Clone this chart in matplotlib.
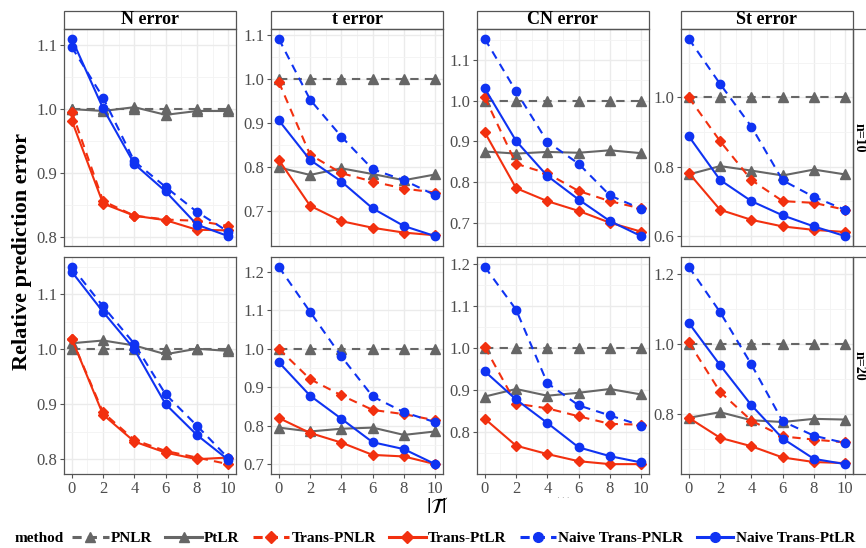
import matplotlib.pyplot as plt
from matplotlib.ticker import MultipleLocator
from matplotlib.lines import Line2D
from matplotlib.patches import Rectangle

plt.rcParams['font.family'] = ['Liberation Serif', 'DejaVu Serif']
plt.rcParams['mathtext.fontset'] = 'stix'

# data: |T| and relative prediction error
x = [0, 2, 4, 6, 8, 10]
methods = ['PNLR', 'PtLR', 'Trans-PNLR', 'Trans-PtLR', 'Naive Trans-PNLR', 'Naive Trans-PtLR']
errors = ['N error', 't error', 'CN error', 'St error']
rows = ['n=10', 'n=20']

# order of series: PNLR, PtLR, Trans-PNLR, Trans-PtLR, Naive Trans-PNLR, Naive Trans-PtLR
N_n10 = [
    [1.0, 1.0, 1.0, 1.0, 1.0, 1.0],
    [1.0, 0.997, 1.003, 0.991, 0.997, 0.997],
    [0.996, 0.856, 0.833, 0.827, 0.825, 0.817],
    [0.982, 0.852, 0.833, 0.826, 0.811, 0.810],
    [1.097, 1.018, 0.918, 0.878, 0.839, 0.808],
    [1.110, 1.001, 0.914, 0.871, 0.819, 0.801],
]
t_n10 = [
    [1.0, 1.0, 1.0, 1.0, 1.0, 1.0],
    [0.800, 0.783, 0.798, 0.785, 0.771, 0.784],
    [0.994, 0.829, 0.787, 0.768, 0.752, 0.743],
    [0.817, 0.713, 0.678, 0.663, 0.652, 0.646],
    [1.092, 0.954, 0.870, 0.796, 0.771, 0.737],
    [0.907, 0.817, 0.768, 0.707, 0.667, 0.644],
]
CN_n10 = [
    [1.0, 1.0, 1.0, 1.0, 1.0, 1.0],
    [0.875, 0.870, 0.874, 0.872, 0.878, 0.871],
    [1.008, 0.845, 0.821, 0.778, 0.753, 0.735],
    [0.922, 0.785, 0.753, 0.729, 0.700, 0.678],
    [1.152, 1.023, 0.899, 0.845, 0.767, 0.734],
    [1.030, 0.901, 0.815, 0.757, 0.704, 0.667],
]
St_n10 = [
    [1.0, 1.0, 1.0, 1.0, 1.0, 1.0],
    [0.778, 0.802, 0.789, 0.775, 0.792, 0.778],
    [1.0, 0.874, 0.762, 0.701, 0.696, 0.676],
    [0.782, 0.676, 0.647, 0.628, 0.618, 0.612],
    [1.169, 1.039, 0.916, 0.761, 0.713, 0.676],
    [0.888, 0.762, 0.701, 0.660, 0.628, 0.600],
]
N_n20 = [
    [1.0, 1.0, 1.0, 1.0, 1.0, 1.0],
    [1.011, 1.016, 1.007, 0.991, 1.001, 0.997],
    [1.019, 0.885, 0.835, 0.815, 0.803, 0.791],
    [1.019, 0.881, 0.832, 0.812, 0.800, 0.803],
    [1.150, 1.078, 1.010, 0.918, 0.861, 0.802],
    [1.141, 1.068, 1.000, 0.900, 0.844, 0.799],
]
t_n20 = [
    [1.0, 1.0, 1.0, 1.0, 1.0, 1.0],
    [0.795, 0.785, 0.792, 0.795, 0.776, 0.785],
    [1.0, 0.921, 0.879, 0.841, 0.830, 0.814],
    [0.820, 0.781, 0.756, 0.724, 0.720, 0.700],
    [1.213, 1.096, 0.980, 0.876, 0.835, 0.809],
    [0.965, 0.878, 0.818, 0.757, 0.739, 0.700],
]
CN_n20 = [
    [1.0, 1.0, 1.0, 1.0, 1.0, 1.0],
    [0.885, 0.903, 0.887, 0.894, 0.903, 0.890],
    [1.003, 0.868, 0.857, 0.838, 0.820, 0.818],
    [0.832, 0.768, 0.748, 0.731, 0.724, 0.724],
    [1.194, 1.092, 0.917, 0.864, 0.840, 0.816],
    [0.945, 0.878, 0.822, 0.764, 0.743, 0.728],
]
St_n20 = [
    [1.0, 1.0, 1.0, 1.0, 1.0, 1.0],
    [0.789, 0.805, 0.782, 0.777, 0.786, 0.784],
    [1.004, 0.863, 0.781, 0.736, 0.727, 0.719],
    [0.789, 0.732, 0.708, 0.676, 0.663, 0.660],
    [1.219, 1.090, 0.941, 0.779, 0.738, 0.717],
    [1.059, 0.939, 0.825, 0.730, 0.672, 0.657],
]
panels = [[N_n10, t_n10, CN_n10, St_n10], [N_n20, t_n20, CN_n20, St_n20]]
ysteps = [[0.1, 0.1, 0.1, 0.2], [0.1, 0.1, 0.1, 0.2]]

grey, red, blue = '#666666', '#F2300F', '#0F33F2'
colors = [grey, grey, red, red, blue, blue]
styles = ['--', '-', '--', '-', '--', '-']
markers = ['^', '^', 'D', 'D', 'o', 'o']
msizes = [6.5, 6.5, 5, 5, 6, 6]

W, H = 866, 548
fig = plt.figure(figsize=(W / 100, H / 100), dpi=100)

col_left = [64, 271, 477, 681]
pw = 172
row_top = [29, 257]
ph = 217
tick_col = '#4D4D4D'

for r in range(2):
    for c in range(4):
        ax = fig.add_axes([col_left[c] / W, 1 - (row_top[r] + ph) / H, pw / W, ph / H])
        data = panels[r][c]
        for k in range(6):
            ax.plot(x, data[k], linestyle=styles[k], color=colors[k], marker=markers[k],
                    markersize=msizes[k], linewidth=1.5, dashes=(4, 3) if styles[k] == '--' else (None, None),
                    zorder=3)
        ax.set_xlim(-0.5, 10.5)
        ax.xaxis.set_major_locator(MultipleLocator(2))
        ax.xaxis.set_minor_locator(MultipleLocator(1))
        ax.yaxis.set_major_locator(MultipleLocator(ysteps[r][c]))
        ax.yaxis.set_minor_locator(MultipleLocator(ysteps[r][c] / 2))
        ax.grid(which='major', color='#EBEBEB', linewidth=1.0)
        ax.grid(which='minor', color='#F3F3F3', linewidth=0.6)
        ax.set_axisbelow(True)
        for s in ax.spines.values():
            s.set_color('#555555')
            s.set_linewidth(0.9)
        ax.tick_params(which='major', length=3, color='#555555', labelsize=12, labelcolor=tick_col, pad=2)
        ax.tick_params(which='minor', length=0)
        ax.yaxis.set_major_formatter(plt.FuncFormatter(lambda v, p: f'{v:.1f}'))
        if r == 0:
            ax.tick_params(axis='x', length=0, labelbottom=False)
            # strip on top
            ax.text(0.5, 1 + 9 / ph, errors[c], transform=ax.transAxes, ha='center', va='center',
                    fontsize=13, fontweight='bold')
            ax.add_patch(Rectangle((0, 1), 1, 18 / ph, transform=ax.transAxes, facecolor='white',
                                   edgecolor='#555555', linewidth=0.9, clip_on=False))
        if c == 3:
            ax.add_patch(Rectangle((1, 0), 20 / pw, 1, transform=ax.transAxes, facecolor='white',
                                   edgecolor='#555555', linewidth=0.9, clip_on=False))
            ax.text(1 + 6.5 / pw, 0.5, rows[r], transform=ax.transAxes, rotation=-90, ha='center',
                    va='center', fontsize=10, fontweight='bold')

fig.text(22 / W, 1 - 251 / H, 'Relative prediction error', rotation=90, ha='center', va='center',
         fontsize=16, fontweight='bold')
fig.text(437 / W, 1 - 508 / H, r'$|\mathcal{T}|$', ha='center', va='center', fontsize=16)
fig.text(563 / W, 1 - 498 / H, '· · ·', ha='center', va='center', fontsize=6, color='#999999')

handles = []
for k in range(6):
    handles.append(Line2D([], [], linestyle=styles[k], color=colors[k], marker=markers[k],
                          markersize=msizes[k] + 1, linewidth=2.2,
                          dashes=(3, 2) if styles[k] == '--' else (None, None)))
fig.text(15 / W, 1 - 538 / H, 'method', ha='left', va='center', fontsize=11, fontweight='bold')
fig.legend(handles, methods, loc='center left', bbox_to_anchor=(72 / W, 1 - 538 / H), ncol=6,
           frameon=False, prop={'weight': 'bold', 'size': 11}, handlelength=2.4,
           handletextpad=0.15, columnspacing=0.85, borderaxespad=0, borderpad=0)

fig.savefig('out.png', dpi=100)
